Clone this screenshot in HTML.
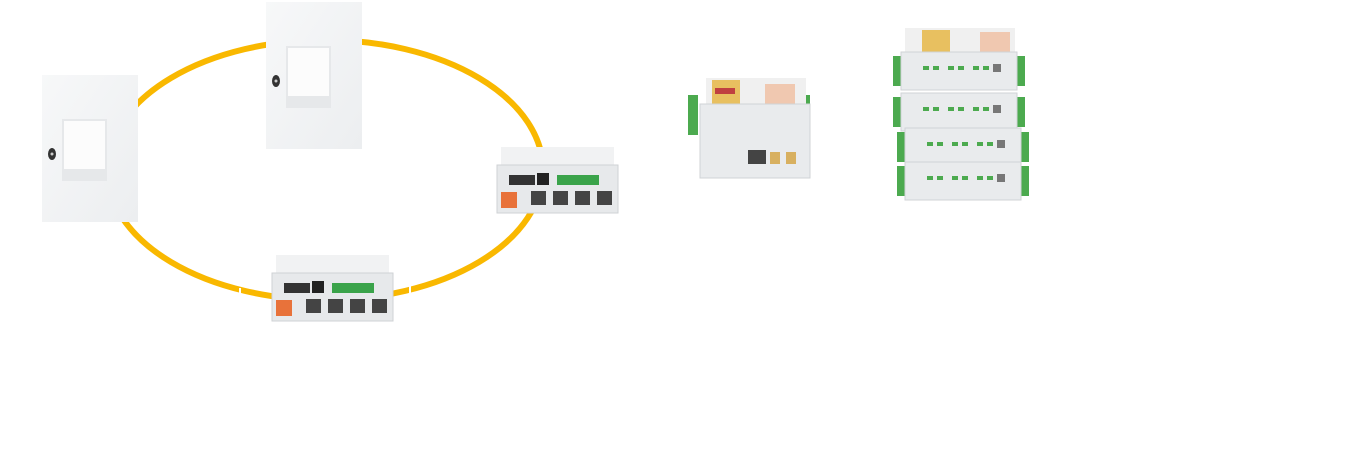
<!DOCTYPE html>
<html><head><meta charset="utf-8"><style>
html,body{margin:0;padding:0;background:#fff;}
svg{display:block}
</style></head><body>
<svg width="1350" height="465" viewBox="0 0 1350 465" xmlns="http://www.w3.org/2000/svg">
<defs>
<linearGradient id="pg" x1="0" y1="0" x2="1" y2="1"><stop offset="0" stop-color="#f7f8f9"/><stop offset="1" stop-color="#eceef0"/></linearGradient>
<g id="sw">
  <rect x="0" y="0" width="96" height="147" fill="url(#pg)"/>
  <rect x="20" y="44" width="45" height="62" fill="#e6e8ea"/>
  <rect x="22" y="46" width="41" height="48" fill="#fcfcfc"/>
  <ellipse cx="10" cy="79" rx="4" ry="6" fill="#333"/>
  <circle cx="10" cy="79" r="1.5" fill="#ccc"/>
</g>
<g id="dev">
  <rect x="4" y="0" width="113" height="20" fill="#f1f2f3"/>
  <rect x="0" y="18" width="121" height="48" fill="#e7e9eb" stroke="#cfd2d5"/>
  <rect x="12" y="28" width="26" height="10" fill="#333"/>
  <rect x="40" y="26" width="12" height="12" fill="#222"/>
  <rect x="60" y="28" width="42" height="10" fill="#3aa34a"/>
  <rect x="4" y="45" width="16" height="16" fill="#e8723a"/>
  <rect x="34" y="44" width="15" height="14" fill="#444"/>
  <rect x="56" y="44" width="15" height="14" fill="#444"/>
  <rect x="78" y="44" width="15" height="14" fill="#444"/>
  <rect x="100" y="44" width="15" height="14" fill="#444"/>
</g>
<g id="mod">
  <rect x="0" y="4" width="8" height="30" fill="#4caa4f"/>
  <rect x="124" y="4" width="8" height="30" fill="#4caa4f"/>
  <rect x="8" y="0" width="116" height="38" fill="#e9ebed" stroke="#d0d3d6"/>
  <rect x="30" y="14" width="6" height="4" fill="#4caa4f"/><rect x="40" y="14" width="6" height="4" fill="#4caa4f"/>
  <rect x="55" y="14" width="6" height="4" fill="#4caa4f"/><rect x="65" y="14" width="6" height="4" fill="#4caa4f"/>
  <rect x="80" y="14" width="6" height="4" fill="#4caa4f"/><rect x="90" y="14" width="6" height="4" fill="#4caa4f"/>
  <rect x="100" y="12" width="8" height="8" fill="#777"/>
</g>
</defs>
<ellipse cx="325" cy="170" rx="218" ry="130" fill="none" stroke="#f9b800" stroke-width="6"/>
<line x1="240" y1="300" x2="240" y2="288" stroke="#fff" stroke-width="2"/>
<line x1="410" y1="300" x2="410" y2="280" stroke="#fff" stroke-width="2"/>
<use href="#sw" x="42" y="75"/>
<use href="#sw" x="266" y="2"/>
<use href="#dev" x="497" y="147"/>
<use href="#dev" x="272" y="255"/>
<!-- device C -->
<rect x="688" y="95" width="10" height="40" fill="#4caa4f"/>
<rect x="800" y="95" width="10" height="40" fill="#4caa4f"/>
<rect x="706" y="78" width="100" height="30" fill="#f0f0f0"/>
<rect x="712" y="80" width="28" height="24" fill="#e8c060"/>
<rect x="715" y="88" width="20" height="6" fill="#c04040"/>
<rect x="765" y="84" width="30" height="20" fill="#f0c8b0"/>
<rect x="700" y="104" width="110" height="74" fill="#e9ebed" stroke="#d0d3d6"/>
<rect x="748" y="150" width="18" height="14" fill="#444"/>
<rect x="770" y="152" width="10" height="12" fill="#d8b060"/>
<rect x="786" y="152" width="10" height="12" fill="#d8b060"/>
<!-- stack -->
<rect x="905" y="28" width="110" height="28" fill="#f0f0f0"/>
<rect x="922" y="30" width="28" height="22" fill="#e8c060"/>
<rect x="980" y="32" width="30" height="20" fill="#f0c8b0"/>
<use href="#mod" x="893" y="52"/>
<use href="#mod" x="893" y="93"/>
<use href="#mod" x="897" y="128"/>
<use href="#mod" x="897" y="162"/>
</svg>
</body></html>
